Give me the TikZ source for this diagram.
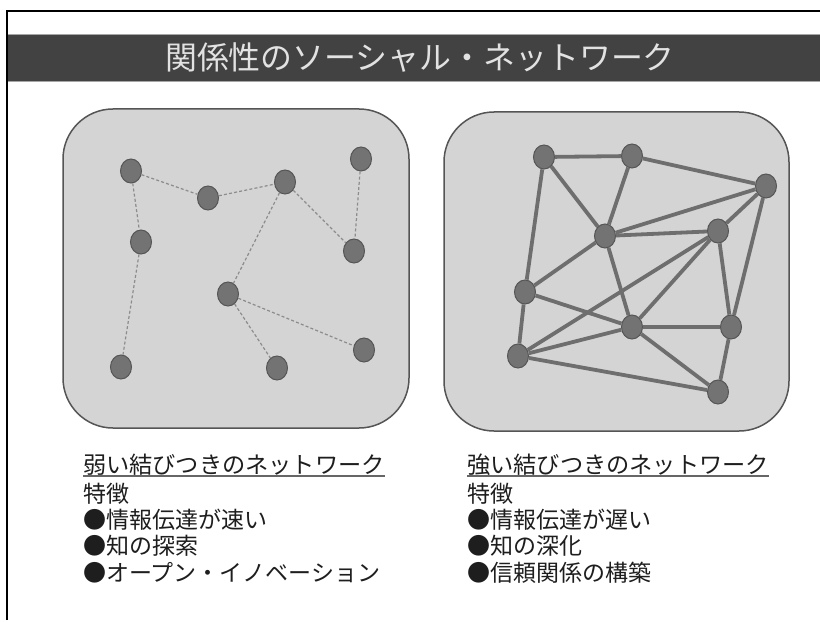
\documentclass[tikz,border=0pt]{standalone}
\usepackage{fontspec}
\setmainfont{Noto Sans CJK JP}
\usetikzlibrary{shapes.geometric}
\definecolor{boxfill}{HTML}{D4D4D4}
\definecolor{boxline}{HTML}{555555}
\definecolor{nodefill}{HTML}{737373}
\definecolor{nodeline}{HTML}{555555}
\definecolor{weakedge}{HTML}{8C8C8C}
\definecolor{strongedge}{HTML}{6E6E6E}
\definecolor{titlebar}{HTML}{424242}
\definecolor{titletext}{HTML}{E2E2E2}
\definecolor{bodytext}{HTML}{1E1E1E}
\tikzset{
  panel/.style={fill=boxfill, draw=boxline, line width=1.5pt, rounded corners=50pt},
  dot/.style={ellipse, fill=nodefill, draw=nodeline, line width=1pt, minimum width=21pt, minimum height=24pt, inner sep=0pt},
  weak/.style={draw=weakedge, line width=1.2pt, dash pattern=on 3pt off 2.2pt},
  strong/.style={draw=strongedge, line width=3.8pt},
  heading/.style={anchor=base west, inner sep=0pt, font=\fontsize{23.2pt}{26pt}\selectfont, text=bodytext},
  body/.style={anchor=base west, inner sep=0pt, font=\fontsize{23pt}{26pt}\selectfont, text=bodytext},
}
\begin{document}
\begin{tikzpicture}[x=1pt, y=-1pt]
\useasboundingbox (0,0) rectangle (820,623);
\fill[white] (0,0) rectangle (820,623);
% frame
\draw[line width=2pt, black] (7,620) -- (7,11) -- (820,11);
% title bar
\fill[titlebar] (8,34) rectangle (820,81);
\draw[gray!70, line width=0.8pt] (8,34) -- (820,34) (8,81) -- (820,81);
\node[anchor=base, inner sep=0pt, font=\fontsize{31.9pt}{34pt}\selectfont, text=titletext] (title) at (420,69.5) {関係性のソーシャル・ネットワーク};
% panels
\draw[panel] (63,109) rectangle (409,428);
\draw[panel] (444,112) rectangle (789,431);
% weak network nodes
\node[dot] (A) at (131,171) {};
\node[dot] (B) at (208,198) {};
\node[dot] (C) at (285,182) {};
\node[dot] (D) at (361,159) {};
\node[dot] (E) at (141,242) {};
\node[dot] (F) at (354,251) {};
\node[dot] (G) at (228,294) {};
\node[dot] (H) at (121,367) {};
\node[dot] (I) at (277,368) {};
\node[dot] (J) at (364,350) {};
\draw[weak] (A) -- (B);
\draw[weak] (B) -- (C);
\draw[weak] (C) -- (F);
\draw[weak] (D) -- (F);
\draw[weak] (A) -- (E);
\draw[weak] (E) -- (H);
\draw[weak] (C) -- (G);
\draw[weak] (G) -- (I);
\draw[weak] (G) -- (J);
% strong network
\node[dot] (a) at (544,157) {};
\node[dot] (b) at (632,156) {};
\node[dot] (c) at (766,186) {};
\node[dot] (d) at (605,236) {};
\node[dot] (e) at (718,231) {};
\node[dot] (f) at (525,292) {};
\node[dot] (g) at (632,327) {};
\node[dot] (h) at (731,327) {};
\node[dot] (i) at (518,356) {};
\node[dot] (j) at (718,392) {};
\draw[strong] (a) -- (b);
\draw[strong] (a) -- (f);
\draw[strong] (a) -- (d);
\draw[strong] (b) -- (d);
\draw[strong] (b) -- (c);
\draw[strong] (c) -- (d);
\draw[strong] (c) -- (e);
\draw[strong] (c) -- (h);
\draw[strong] (d) -- (e);
\draw[strong] (d) -- (f);
\draw[strong] (d) -- (g);
\draw[strong] (e) -- (i);
\draw[strong] (e) -- (g);
\draw[strong] (e) -- (h);
\draw[strong] (f) -- (g);
\draw[strong] (f) -- (i);
\draw[strong] (i) -- (g);
\draw[strong] (i) -- (j);
\draw[strong] (g) -- (h);
\draw[strong] (g) -- (j);
\draw[strong] (h) -- (j);
% left text
\node[heading] (lh) at (83,473) {弱い結びつきのネットワーク};
\draw[gray!80!black, line width=1.3pt] ([yshift=-3pt]lh.base west) -- ([yshift=-3pt]lh.base east);
\node[body] (l1) at (83,502) {特徴};
\node[body] (l2) at (83,528) {●情報伝達が速い};
\node[body] (l3) at (83,554.5) {●知の探索};
\node[body] (l4) at (83,581) {●オープン・イノベーション};
% right text
\node[heading] (rh) at (467,473) {強い結びつきのネットワーク};
\draw[gray!80!black, line width=1.3pt] ([yshift=-3pt]rh.base west) -- ([yshift=-3pt]rh.base east);
\node[body] (r1) at (467,502) {特徴};
\node[body] (r2) at (467,528) {●情報伝達が遅い};
\node[body] (r3) at (467,554.5) {●知の深化};
\node[body] (r4) at (467,581) {●信頼関係の構築};
\end{tikzpicture}
\end{document}
